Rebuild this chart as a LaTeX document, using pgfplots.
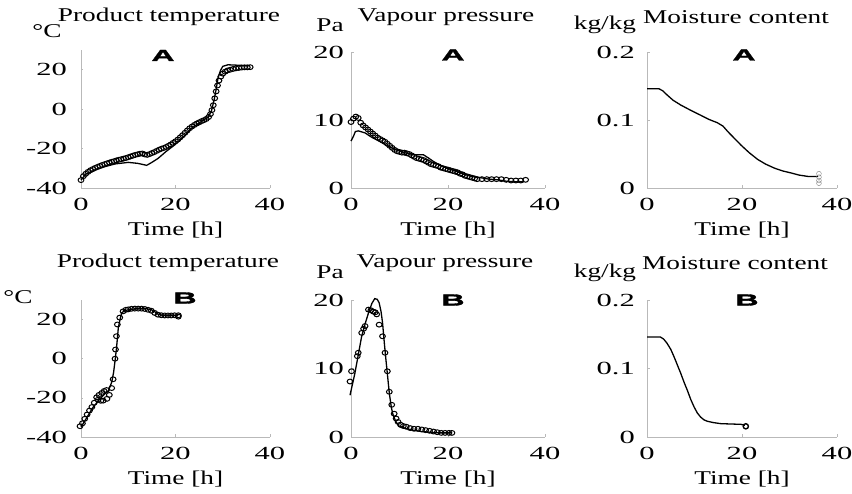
\documentclass[border=0pt]{standalone}
\usepackage{fontspec}
\setmainfont{Liberation Serif}[FakeStretch=1.4]
\newfontfamily\tickfont{Liberation Serif}[FakeStretch=1.65]
\newfontfamily\panelfont{Liberation Sans}[UprightFont=* Bold, FakeStretch=2.0, FakeBold=2]
\usepackage{pgfplots}
\pgfplotsset{compat=1.18}
\pgfplotsset{
  panel/.style={scale only axis, axis lines=left,
    axis line style={-, draw=gray!55, line width=0.8bp},
    tick style={draw=gray!55, line width=0.6bp}, major tick length=2.5bp, tick align=inside,
    xmin=0, xmax=40, xtick={0,20,40}, xticklabels={0,20,40}, clip=false,
    /pgf/number format/assume math mode=true,
    ticklabel style={font=\tickfont\fontsize{18.5bp}{20bp}\selectfont},
    xticklabel style={inner sep=0pt, anchor=north, yshift=-10bp},
    yticklabel style={inner sep=0pt, anchor=east},
    xlabel={Time [h]},
    xlabel style={at={(axis description cs:0.5,0)}, anchor=center, yshift=-42bp, inner sep=0pt,
      font=\fontsize{19.5bp}{22bp}\selectfont}},
  temp/.style={ymin=-40, ymax=30, ytick={-40,-20,0,20}, yticklabels={-40,-20,0,20}, yticklabel style={xshift=-14bp}},
  vap/.style={ymin=0, ymax=20, ytick={0,10,20}, yticklabels={0,10,20}, yticklabel style={xshift=-7bp}},
  moist/.style={ymin=0, ymax=0.2, ytick={0,0.1,0.2}, yticklabels={0,0.1,0.2}, yticklabel style={xshift=-12bp}},
  model/.style={black, line width=1.3bp, no marks},
  meas/.style={only marks, mark=o, mark size=2.4bp, mark options={black, line width=1bp, xscale=1.2}},
}
\begin{document}
\begin{tikzpicture}[font=\fontsize{19.5bp}{22bp}\selectfont]
\useasboundingbox (0,0) rectangle (852bp,494bp);

% ---------- Row A ----------
\begin{axis}[panel, temp, at={(81bp,306bp)}, anchor=south west, width=189bp, height=138bp]
\addplot[model] coordinates {(0,-36) (1,-33) (3,-30.8) (5,-29.2) (7.2,-27.8) (10,-27) (12,-27.5) (13.9,-28.5) (15,-27) (16.3,-25) (18,-21.5) (19.9,-18) (21.5,-14.5) (23.4,-9.7) (25,-7) (26.9,-4) (27.6,-1) (28.2,5) (28.6,10) (29,15.8) (29.5,19.5) (30,21.7) (31.1,22.5) (33,22.3) (35.7,22)};
\addplot[meas] coordinates {(0,-36) (0.5,-34) (1,-32.8) (1.5,-31.8) (2,-31) (2.5,-30.4) (3,-29.8) (3.5,-29.3) (4,-28.8) (4.5,-28.3) (5,-27.9) (5.5,-27.5) (6,-27.1) (6.5,-26.7) (7,-26.4) (7.5,-26) (8,-25.7) (8.5,-25.4) (9,-25.1) (9.5,-24.8) (10,-24.4) (10.5,-24) (11,-23.6) (11.5,-23.2) (12,-22.9) (12.5,-22.6) (13,-22.5) (13.5,-23) (14,-23.2) (14.5,-22.8) (15,-22.3) (15.5,-21.8) (16,-21.2) (16.5,-20.6) (17,-20.1) (17.5,-19.7) (18,-19.2) (18.5,-18.6) (19,-17.9) (19.5,-17.1) (20,-16.3) (20.5,-15.4) (21,-14.3) (21.5,-13.2) (22,-12) (22.5,-10.8) (23,-9.7) (23.5,-8.8) (24,-8) (24.5,-7.3) (25,-6.7) (25.5,-6.1) (26,-5.6) (26.5,-5) (27,-4) (27.4,-2.5) (27.7,-0.5) (28,2) (28.3,5.5) (28.6,9) (28.9,12) (29.2,14.5) (29.6,16.5) (30,18) (30.5,19) (31,19.6) (31.6,20) (32.2,20.4) (32.8,20.7) (33.4,20.9) (34,21.1) (34.6,21.2) (35.2,21.2) (35.8,21.3)};
\end{axis}

\begin{axis}[panel, vap, at={(351bp,306bp)}, anchor=south west, width=194bp, height=136bp]
\addplot[model] coordinates {(0,6.9) (0.5,7.6) (0.9,8.3) (1.5,8.4) (2.9,8.1) (4.4,7.4) (5.8,6.9) (7.5,6.2) (9.3,5.6) (11,5.2) (12.8,4.9) (14.9,4.9) (16,4.4) (17,3.9) (18.5,3.3) (19.8,2.9) (21.5,2.5) (23.3,2.0) (25,1.7) (26.8,1.5) (28.5,1.3) (30.3,1.2) (32,1.0) (33.8,0.9) (35.6,0.9)};
\addplot[meas] coordinates {(0,9.7) (0.5,10.2) (1,10.5) (1.5,10.3) (2,9.6) (2.5,9.2) (3,8.9) (3.5,8.6) (4,8.3) (4.5,8.0) (5,7.7) (5.5,7.4) (6,7.2) (6.5,7.0) (7,6.8) (7.5,6.5) (8,6.2) (8.5,5.9) (9,5.6) (9.5,5.4) (10,5.3) (10.5,5.2) (11,5.2) (11.5,5.1) (12,5.0) (12.5,4.8) (13,4.6) (13.5,4.4) (14,4.3) (14.5,4.2) (15,4.1) (15.5,3.9) (16,3.7) (16.5,3.5) (17,3.4) (17.5,3.3) (18,3.2) (18.5,3.0) (19,2.9) (19.5,2.8) (20,2.7) (20.5,2.6) (21,2.5) (21.5,2.4) (22,2.3) (22.5,2.1) (23,2.0) (23.5,1.8) (24,1.7) (24.5,1.6) (25,1.5) (25.5,1.4) (26,1.3) (27,1.3) (28,1.3) (29,1.3) (30,1.3) (31,1.3) (32,1.2) (33,1.1) (34,1.1) (35,1.1) (36,1.2)};
\end{axis}

\begin{axis}[panel, moist, at={(647bp,306bp)}, anchor=south west, width=190bp, height=136bp]
\addplot[model] coordinates {(0,0.146) (2.5,0.146) (3.3,0.143) (4.2,0.137) (5.5,0.129) (7.1,0.122) (9,0.115) (11.3,0.107) (13,0.101) (14.8,0.096) (16,0.091) (17,0.083) (18.4,0.073) (19.8,0.063) (21.5,0.052) (23.3,0.042) (25,0.035) (26.9,0.029) (28.6,0.025) (30.4,0.022) (32,0.019) (33.9,0.017) (36,0.017)};
\addplot[meas, mark options={gray}] coordinates {(36.2,0.021) (36.2,0.016) (36.2,0.011) (36.2,0.007)};
\end{axis}

% ---------- Row B ----------
\begin{axis}[panel, temp, at={(81bp,57bp)}, anchor=south west, width=189bp, height=137bp]
\addplot[model] coordinates {(0,-35) (1.5,-29) (2.5,-25) (3.7,-21.4) (4.8,-18.5) (5.8,-16.4) (6.5,-12) (6.9,-7) (7.2,-1.2) (7.5,5) (7.9,15.8) (8.3,20.5) (8.6,23.4) (9.2,24.5) (10,25) (11.5,25.5) (12.8,25.7) (14,25.5) (14.9,25) (15.6,24) (16.3,22.8) (17,22.3) (18.3,22.2) (20.6,22.2)};
\addplot[meas] coordinates {(-0.2,-34.5) (0.3,-33) (0.8,-30.7) (1.3,-28.5) (1.8,-26.5) (2.3,-24.7) (2.8,-22.5) (3.3,-19.7) (3.8,-18.5) (4.4,-17.5) (4.9,-16.5) (5.4,-16) (3.6,-21) (4.2,-21.5) (4.7,-21.4) (5.5,-20.5) (6.0,-18.5) (6.5,-15) (6.8,-10.5) (7.2,0) (7.3,4.7) (7.5,11.5) (7.7,17.5) (8.2,21) (8.9,24.2) (9.5,25) (10,25.2) (10.7,25.5) (11.4,25.6) (12.1,25.6) (12.8,25.6) (13.5,25.4) (14.2,25) (14.9,24.5) (15.6,23.4) (16.3,22.5) (17,22.2) (17.7,22.1) (18.4,22.1) (19.1,22.1) (19.8,22.2) (20.6,22.2) (20.6,21.5)};
\end{axis}

\begin{axis}[panel, vap, at={(351bp,57bp)}, anchor=south west, width=194bp, height=137bp]
\addplot[model] coordinates {(-0.2,6.1) (0.8,9.3) (1.5,12) (2.2,14.7) (2.9,16.5) (3.6,18.1) (4.3,19.5) (4.9,20.2) (5.4,20.1) (5.8,19.6) (6.2,18.3) (6.5,16.7) (6.9,13.5) (7.2,11.3) (7.6,8.5) (7.9,6.4) (8.3,4.4) (8.6,3.4) (9.2,2.3) (10,1.5) (11.5,1.2) (12.8,1.0) (14.5,0.8) (16.3,0.7) (18.5,0.6) (20.8,0.6)};
\addplot[meas] coordinates {(-0.2,8.1) (0.1,9.6) (1.3,11.8) (1.5,12.3) (2.2,15.2) (2.6,15.8) (2.9,16.2) (3.6,18.6) (4.1,18.5) (4.6,18.3) (5.0,18.2) (5.3,17.9) (5.8,16.4) (6.5,14.7) (7.0,12.3) (7.5,9.6) (7.9,6.6) (8.4,4.7) (8.9,3.4) (9.3,2.7) (9.7,2.2) (10.2,1.8) (10.8,1.6) (11.4,1.5) (12.2,1.3) (13.0,1.2) (13.8,1.2) (14.6,1.1) (15.4,1.0) (16.2,0.9) (17.0,0.8) (17.8,0.7) (18.6,0.6) (19.4,0.6) (20.2,0.6) (20.8,0.6)};
\end{axis}

\begin{axis}[panel, moist, at={(647bp,57bp)}, anchor=south west, width=190bp, height=137bp]
\addplot[model] coordinates {(0,0.146) (2.8,0.146) (3.5,0.143) (4.2,0.137) (5,0.128) (5.7,0.117) (6.4,0.105) (7.1,0.093) (7.8,0.08) (8.5,0.068) (9.2,0.055) (9.9,0.044) (10.6,0.035) (11.3,0.029) (12,0.025) (12.7,0.023) (14,0.021) (15.5,0.0195) (17.5,0.019) (19.8,0.0185) (20.6,0.017)};
\addplot[meas, mark size=2.6bp, mark options={line width=1.4bp}] coordinates {(20.8,0.0156)};
\end{axis}

% ---------- titles, units, panel letters ----------
\node at (169bp,477bp) {Product temperature};
\node at (47bp,463bp) {°C};
\node at (446bp,477bp) {Vapour pressure};
\node at (330bp,469bp) {Pa};
\node at (736bp,477bp) {Moisture content};
\node at (605bp,469bp) {kg/kg};

\node at (168bp,231bp) {Product temperature};
\node at (18bp,197bp) {°C};
\node at (445bp,231bp) {Vapour pressure};
\node at (330bp,222bp) {Pa};
\node at (735bp,231bp) {Moisture content};
\node at (605bp,221bp) {kg/kg};

\begin{scope}[every node/.style={font=\panelfont\fontsize{16bp}{16bp}\selectfont, inner sep=0pt}]
\node at (163bp,438.5bp) {A};
\node at (453bp,439bp) {A};
\node at (744bp,439bp) {A};
\node at (185bp,196bp) {B};
\node at (453bp,194bp) {B};
\node at (747bp,194bp) {B};
\end{scope}
\end{tikzpicture}
\end{document}
